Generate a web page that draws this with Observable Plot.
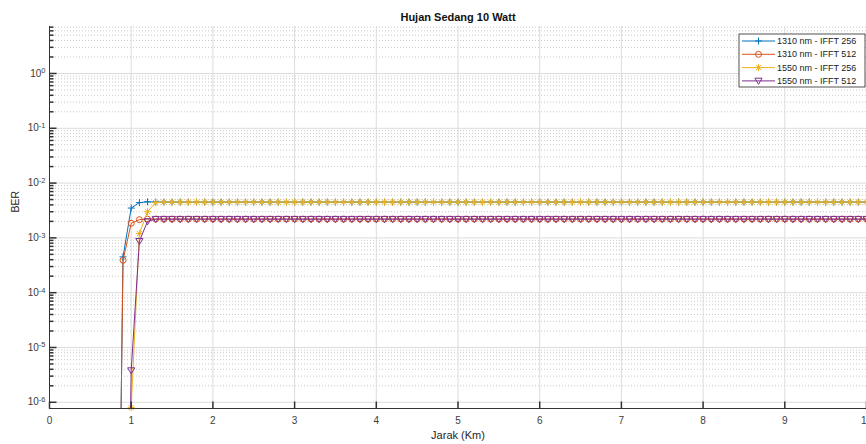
<!DOCTYPE html>
<html><head><meta charset="utf-8">
<script src="https://cdn.jsdelivr.net/npm/d3@7"></script>
<script src="https://cdn.jsdelivr.net/npm/@observablehq/plot@0.6"></script>
<style>
html,body{margin:0;padding:0;background:#fff;overflow:hidden;width:866px;height:444px;}
#chart{position:relative;width:866px;height:444px;overflow:hidden;}
#chart svg{max-width:none !important;}
</style></head><body><div id="chart"></div>
<script>
const xKm = [
0,0.1,0.2,0.3,0.4,0.5,0.6,0.7,0.8,0.9,
1,1.1,1.2,1.3,1.4,1.5,1.6,1.7,1.8,1.9,
2,2.1,2.2,2.3,2.4,2.5,2.6,2.7,2.8,2.9,
3,3.1,3.2,3.3,3.4,3.5,3.6,3.7,3.8,3.9,
4,4.1,4.2,4.3,4.4,4.5,4.6,4.7,4.8,4.9,
5,5.1,5.2,5.3,5.4,5.5,5.6,5.7,5.8,5.9,
6,6.1,6.2,6.3,6.4,6.5,6.6,6.7,6.8,6.9,
7,7.1,7.2,7.3,7.4,7.5,7.6,7.7,7.8,7.9,
8,8.1,8.2,8.3,8.4,8.5,8.6,8.7,8.8,8.9,
9,9.1,9.2,9.3,9.4,9.5,9.6,9.7,9.8,9.9,
10];
const ber1310_256 = [
1e-15,1e-15,1e-15,1e-15,1e-15,1e-15,1e-15,1e-15,1e-15,4.5e-4,
3.5e-3,4.4e-3,4.55e-3,4.5e-3,4.5e-3,4.5e-3,4.5e-3,4.5e-3,4.5e-3,4.5e-3,
4.5e-3,4.5e-3,4.5e-3,4.5e-3,4.5e-3,4.5e-3,4.5e-3,4.5e-3,4.5e-3,4.5e-3,
4.5e-3,4.5e-3,4.5e-3,4.5e-3,4.5e-3,4.5e-3,4.5e-3,4.5e-3,4.5e-3,4.5e-3,
4.5e-3,4.5e-3,4.5e-3,4.5e-3,4.5e-3,4.5e-3,4.5e-3,4.5e-3,4.5e-3,4.5e-3,
4.5e-3,4.5e-3,4.5e-3,4.5e-3,4.5e-3,4.5e-3,4.5e-3,4.5e-3,4.5e-3,4.5e-3,
4.5e-3,4.5e-3,4.5e-3,4.5e-3,4.5e-3,4.5e-3,4.5e-3,4.5e-3,4.5e-3,4.5e-3,
4.5e-3,4.5e-3,4.5e-3,4.5e-3,4.5e-3,4.5e-3,4.5e-3,4.5e-3,4.5e-3,4.5e-3,
4.5e-3,4.5e-3,4.5e-3,4.5e-3,4.5e-3,4.5e-3,4.5e-3,4.5e-3,4.5e-3,4.5e-3,
4.5e-3,4.5e-3,4.5e-3,4.5e-3,4.5e-3,4.5e-3,4.5e-3,4.5e-3,4.5e-3,4.5e-3,
4.5e-3];
const ber1310_512 = [
1e-15,1e-15,1e-15,1e-15,1e-15,1e-15,1e-15,1e-15,1e-15,3.9e-4,
1.85e-3,2.15e-3,2.2e-3,2.2e-3,2.2e-3,2.2e-3,2.2e-3,2.2e-3,2.2e-3,2.2e-3,
2.2e-3,2.2e-3,2.2e-3,2.2e-3,2.2e-3,2.2e-3,2.2e-3,2.2e-3,2.2e-3,2.2e-3,
2.2e-3,2.2e-3,2.2e-3,2.2e-3,2.2e-3,2.2e-3,2.2e-3,2.2e-3,2.2e-3,2.2e-3,
2.2e-3,2.2e-3,2.2e-3,2.2e-3,2.2e-3,2.2e-3,2.2e-3,2.2e-3,2.2e-3,2.2e-3,
2.2e-3,2.2e-3,2.2e-3,2.2e-3,2.2e-3,2.2e-3,2.2e-3,2.2e-3,2.2e-3,2.2e-3,
2.2e-3,2.2e-3,2.2e-3,2.2e-3,2.2e-3,2.2e-3,2.2e-3,2.2e-3,2.2e-3,2.2e-3,
2.2e-3,2.2e-3,2.2e-3,2.2e-3,2.2e-3,2.2e-3,2.2e-3,2.2e-3,2.2e-3,2.2e-3,
2.2e-3,2.2e-3,2.2e-3,2.2e-3,2.2e-3,2.2e-3,2.2e-3,2.2e-3,2.2e-3,2.2e-3,
2.2e-3,2.2e-3,2.2e-3,2.2e-3,2.2e-3,2.2e-3,2.2e-3,2.2e-3,2.2e-3,2.2e-3,
2.2e-3];
const ber1550_256 = [
1e-15,1e-15,1e-15,1e-15,1e-15,1e-15,1e-15,1e-15,1e-15,1e-15,
8e-7,1.2e-3,3.0e-3,4.4e-3,4.5e-3,4.5e-3,4.5e-3,4.5e-3,4.5e-3,4.5e-3,
4.5e-3,4.5e-3,4.5e-3,4.5e-3,4.5e-3,4.5e-3,4.5e-3,4.5e-3,4.5e-3,4.5e-3,
4.5e-3,4.5e-3,4.5e-3,4.5e-3,4.5e-3,4.5e-3,4.5e-3,4.5e-3,4.5e-3,4.5e-3,
4.5e-3,4.5e-3,4.5e-3,4.5e-3,4.5e-3,4.5e-3,4.5e-3,4.5e-3,4.5e-3,4.5e-3,
4.5e-3,4.5e-3,4.5e-3,4.5e-3,4.5e-3,4.5e-3,4.5e-3,4.5e-3,4.5e-3,4.5e-3,
4.5e-3,4.5e-3,4.5e-3,4.5e-3,4.5e-3,4.5e-3,4.5e-3,4.5e-3,4.5e-3,4.5e-3,
4.5e-3,4.5e-3,4.5e-3,4.5e-3,4.5e-3,4.5e-3,4.5e-3,4.5e-3,4.5e-3,4.5e-3,
4.5e-3,4.5e-3,4.5e-3,4.5e-3,4.5e-3,4.5e-3,4.5e-3,4.5e-3,4.5e-3,4.5e-3,
4.5e-3,4.5e-3,4.5e-3,4.5e-3,4.5e-3,4.5e-3,4.5e-3,4.5e-3,4.5e-3,4.5e-3,
4.5e-3];
const ber1550_512 = [
1e-15,1e-15,1e-15,1e-15,1e-15,1e-15,1e-15,1e-15,1e-15,1e-15,
3.8e-6,8.7e-4,2.0e-3,2.2e-3,2.2e-3,2.2e-3,2.2e-3,2.2e-3,2.2e-3,2.2e-3,
2.2e-3,2.2e-3,2.2e-3,2.2e-3,2.2e-3,2.2e-3,2.2e-3,2.2e-3,2.2e-3,2.2e-3,
2.2e-3,2.2e-3,2.2e-3,2.2e-3,2.2e-3,2.2e-3,2.2e-3,2.2e-3,2.2e-3,2.2e-3,
2.2e-3,2.2e-3,2.2e-3,2.2e-3,2.2e-3,2.2e-3,2.2e-3,2.2e-3,2.2e-3,2.2e-3,
2.2e-3,2.2e-3,2.2e-3,2.2e-3,2.2e-3,2.2e-3,2.2e-3,2.2e-3,2.2e-3,2.2e-3,
2.2e-3,2.2e-3,2.2e-3,2.2e-3,2.2e-3,2.2e-3,2.2e-3,2.2e-3,2.2e-3,2.2e-3,
2.2e-3,2.2e-3,2.2e-3,2.2e-3,2.2e-3,2.2e-3,2.2e-3,2.2e-3,2.2e-3,2.2e-3,
2.2e-3,2.2e-3,2.2e-3,2.2e-3,2.2e-3,2.2e-3,2.2e-3,2.2e-3,2.2e-3,2.2e-3,
2.2e-3,2.2e-3,2.2e-3,2.2e-3,2.2e-3,2.2e-3,2.2e-3,2.2e-3,2.2e-3,2.2e-3,
2.2e-3];
const seriesNames = ["1310 nm - IFFT 256", "1310 nm - IFFT 512", "1550 nm - IFFT 256", "1550 nm - IFFT 512"];
const seriesColors = ["#0072BD", "#D95319", "#EDB120", "#7E2F8E"];
const xTicks = [0,1,2,3,4,5,6,7,8,9,10];
const yTicks = [1e-6,1e-5,1e-4,1e-3,1e-2,1e-1,1];
const yTickExponents = ["-6","-5","-4","-3","-2","-1","0"];
const yMinorSteps = [2,3,4,5,6,7,8,9];
const yDomain = [7.7e-7, 7.2];
const xDomain = [0, 10];
const titleText = "Hujan Sedang 10 Watt";
const xLabel = "Jarak (Km)";
const yLabel = "BER";

// symbols
const rOf = s => Math.sqrt(s / Math.PI);
const plusSym = {draw(c, s){const r=rOf(s); c.moveTo(-r,0); c.lineTo(r,0); c.moveTo(0,-r); c.lineTo(0,r);}};
const starSym = {draw(c, s){const r=rOf(s), d=r*0.72; c.moveTo(-r,0); c.lineTo(r,0); c.moveTo(0,-r); c.lineTo(0,r); c.moveTo(-d,-d); c.lineTo(d,d); c.moveTo(-d,d); c.lineTo(d,-d);}};
const triDownSym = {draw(c, s){const r=rOf(s); c.moveTo(-r,-r*0.75); c.lineTo(r,-r*0.75); c.lineTo(0,r*0.95); c.closePath();}};
const tickRight7 = {draw(c){c.moveTo(0,0); c.lineTo(7,0);}};
const tickRight4 = {draw(c){c.moveTo(0,0); c.lineTo(4,0);}};
const tickUp7 = {draw(c){c.moveTo(0,0); c.lineTo(0,-7);}};

const seriesValues = [ber1310_256, ber1310_512, ber1550_256, ber1550_512];
const seriesSymbols = [plusSym, d3.symbolCircle, starSym, triDownSym];
const seriesR = [3.5, 3, 3.6, 3.6];

const yMinor = yTicks.flatMap(d => yMinorSteps.map(k => k * d)).filter(v => v > yDomain[0] && v < yDomain[1]);

const marks = [
  Plot.ruleY(yMinor, {stroke: "#c8c8c8", strokeDasharray: "1,2", strokeWidth: 1}),
  Plot.ruleY(yTicks, {stroke: "#dcdcdc", strokeWidth: 1}),
  Plot.ruleX(xTicks, {stroke: "#dcdcdc", strokeWidth: 1}),
];
seriesNames.forEach((name, s) => {
  const rows = xKm.map((x, i) => ({x, y: seriesValues[s][i], name}));
  marks.push(Plot.line(rows, {x: "x", y: "y", stroke: seriesColors[s], strokeWidth: 1, clip: true}));
  marks.push(Plot.dot(rows, {x: "x", y: "y", filter: d => d.y >= yDomain[0] && d.y <= yDomain[1],
    symbol: seriesSymbols[s], r: seriesR[s], stroke: seriesColors[s], fill: "none", strokeWidth: 1}));
});
marks.push(
  Plot.ruleX([xDomain[0]], {stroke: "#333", strokeWidth: 1}),
  Plot.ruleY([yDomain[0]], {stroke: "#333", strokeWidth: 1}),
  Plot.dot(yTicks, {x: () => xDomain[0], y: d => d, symbol: tickRight7, r: 1, stroke: "#333", fill: "none"}),
  Plot.dot(yMinor, {x: () => xDomain[0], y: d => d, symbol: tickRight4, r: 1, stroke: "#333", fill: "none"}),
  Plot.dot(xTicks, {x: d => d, y: () => yDomain[0], symbol: tickUp7, r: 1, stroke: "#333", fill: "none"}),
  Plot.axisY({ticks: yTicks, tickFormat: d => "10^" + yTickExponents[yTicks.indexOf(d)], tickSize: 0, tickPadding: 4, label: null, fontSize: 10, fill: "#3c3c3c", className: "yaxis"}),
  Plot.axisX({ticks: xTicks, tickFormat: d => String(d), tickSize: 0, tickPadding: 8, label: null, fontSize: 10, fill: "#3c3c3c"}),
  Plot.text([titleText], {text: d => d, frameAnchor: "top", dy: -9, lineAnchor: "middle", fontWeight: "bold", fontSize: 11, fill: "#111"}),
  Plot.text([xLabel], {text: d => d, frameAnchor: "bottom", dy: 27, lineAnchor: "middle", fontSize: 11, fill: "#262626"}),
  Plot.text([yLabel], {text: d => d, frameAnchor: "left", dx: -34, dy: -5, rotate: -90, lineAnchor: "middle", fontSize: 10.5, fill: "#262626"})
);

const chart = Plot.plot({
  width: 900, height: 444,
  marginLeft: 49, marginRight: 34, marginTop: 26, marginBottom: 36,
  x: {domain: xDomain},
  y: {type: "log", domain: yDomain},
  style: {fontFamily: "'Liberation Sans', Arial, sans-serif", background: "white", color: "#333", overflow: "hidden", maxWidth: "none"},
  marks
});
document.getElementById("chart").appendChild(chart);

const svg = d3.select(chart);
// render y tick labels as 10 with a raised exponent
svg.selectAll("text").each(function() {
  const t = this.textContent;
  if (/^10\^/.test(t)) {
    const exp = t.slice(3);
    const el = d3.select(this);
    el.text(null);
    el.append("tspan").text("10");
    el.append("tspan").attr("dy", "-0.45em").attr("font-size", "7.5px").text(exp);
  }
});

// legend
const lg = svg.append("g").attr("text-anchor", "start");
const lx = 739, ly = 34, lw = 126, lh = 53;
lg.append("rect").attr("x", lx).attr("y", ly).attr("width", lw).attr("height", lh)
  .attr("fill", "white").attr("stroke", "#262626").attr("stroke-width", 0.8);
seriesNames.forEach((name, s) => {
  const y = ly + 7 + s * 13.3;
  lg.append("line").attr("x1", lx + 3).attr("x2", lx + 36).attr("y1", y).attr("y2", y)
    .attr("stroke", seriesColors[s]).attr("stroke-width", 1);
  lg.append("path").attr("transform", `translate(${lx + 19.5},${y})`)
    .attr("d", d3.symbol(seriesSymbols[s], seriesR[s] * seriesR[s] * Math.PI)())
    .attr("fill", "none").attr("stroke", seriesColors[s]).attr("stroke-width", 1);
  lg.append("text").attr("x", lx + 38).attr("y", y).attr("dy", "0.35em")
    .attr("font-size", 9).attr("fill", "#222").text(name);
});
</script></body></html>
